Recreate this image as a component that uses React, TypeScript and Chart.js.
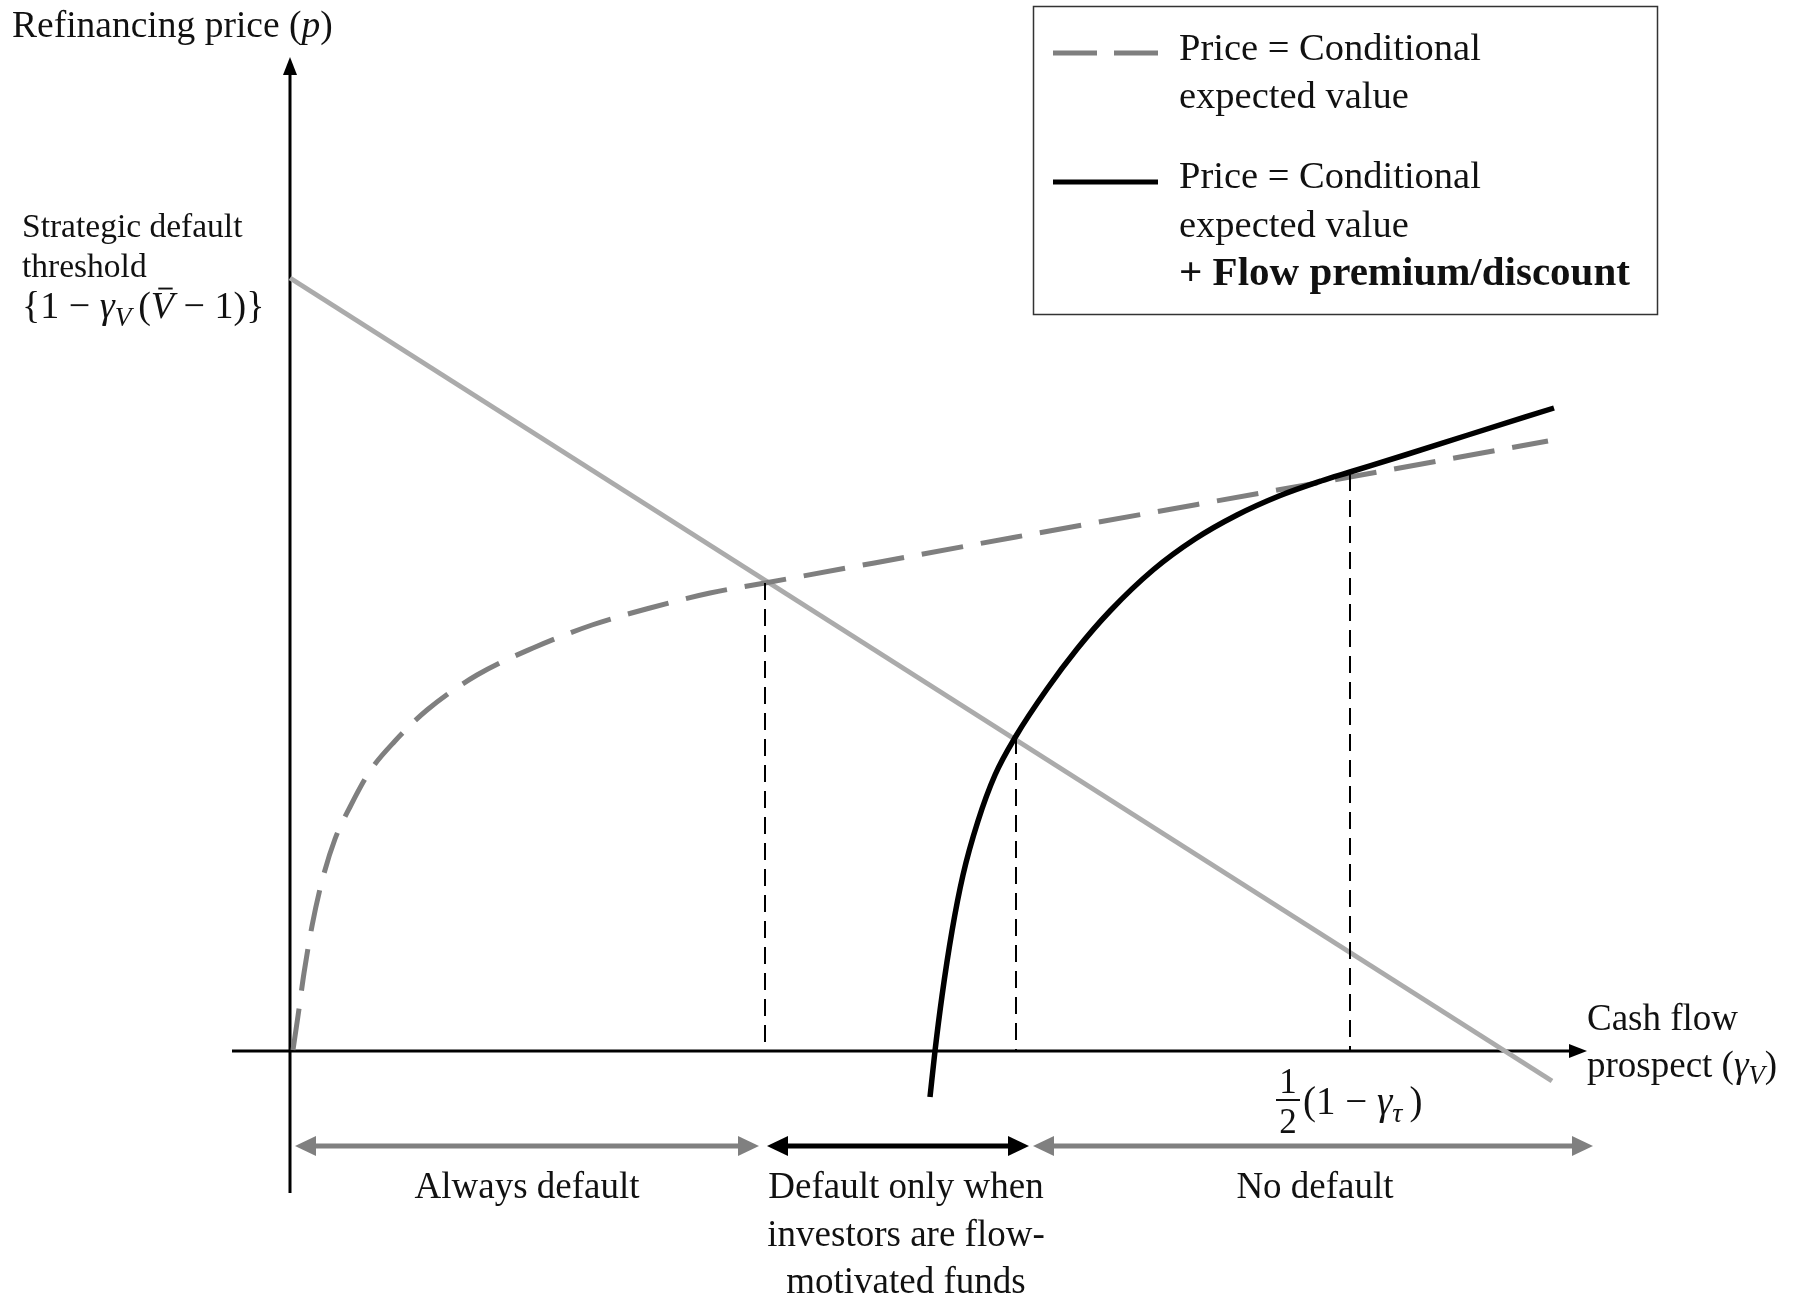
import React, { useEffect, useRef } from "react";
import { Chart, registerables } from "chart.js";

Chart.register(...registerables);

// ---------- data (model units: origin at axes crossing) ----------
const thresholdX = [0, 12.62];
const thresholdY = [7.73, -0.3];

const cevX = [0.03, 0.08, 0.14, 0.22, 0.32, 0.45, 0.6, 0.8, 1.05, 1.37, 1.87, 2.43, 3.02, 3.6, 4.2, 4.75, 7.26, 10.6, 12.58];
const cevY = [0.01, 0.35, 0.78, 1.25, 1.7, 2.12, 2.44, 2.8, 3.1, 3.41, 3.76, 4.03, 4.26, 4.43, 4.58, 4.68, 5.14, 5.74, 6.1];

const flowX = [6.4, 6.45, 6.52, 6.62, 6.73, 6.88, 7.05, 7.26, 7.57, 7.87, 8.2, 8.63, 9.05, 9.47, 9.89, 10.31, 10.6, 11.15, 11.78, 12.64];
const flowY = [-0.46, 0.0, 0.55, 1.2, 1.76, 2.3, 2.76, 3.15, 3.62, 4.02, 4.4, 4.81, 5.12, 5.36, 5.55, 5.7, 5.79, 5.96, 6.16, 6.43];

const dropX = [4.75, 7.26, 10.6];
const dropY = [4.68, 3.14, 5.77];

const regionStart = [0.05, 4.77, 7.43];
const regionEnd = [4.69, 7.39, 13.03];
const regionLabelX = [2.37, 6.16, 10.25];
const regionLabels = [["Always default"], ["Default only when", "investors are flow-", "motivated funds"], ["No default"]];

const xAxisRange = [-0.58, 12.97];
const yAxisRange = [-1.42, 9.94];

const legendLabels = [
  ["Price = Conditional", "expected value"],
  ["Price = Conditional", "expected value", "+ Flow premium/discount"],
];

// ---------- styles ----------
const SERIF = '"Liberation Serif", "Times New Roman", serif';
const DASH_GRAY = "#7f7f7f";
const LIGHT_GRAY = "#ababab";
const ARROW_GRAY = "#808080";

type Run = { t: string; i?: boolean; b?: boolean; sub?: boolean; bar?: boolean };

function fontOf(size: number, r: Run) {
  return `${r.i ? "italic " : ""}${r.b ? "bold " : ""}${size}px ${SERIF}`;
}

function drawRuns(ctx: CanvasRenderingContext2D, runs: Run[], x: number, y: number, size: number, align: "left" | "center" = "left", color = "#111") {
  const widths = runs.map((r) => {
    const s = r.sub ? size * 0.72 : size;
    ctx.font = fontOf(s, r);
    return ctx.measureText(r.t).width;
  });
  const total = widths.reduce((a, b) => a + b, 0);
  let cx = align === "center" ? x - total / 2 : x;
  ctx.fillStyle = color;
  ctx.textAlign = "left";
  ctx.textBaseline = "alphabetic";
  runs.forEach((r, k) => {
    const s = r.sub ? size * 0.72 : size;
    ctx.font = fontOf(s, r);
    const yy = r.sub ? y + size * 0.2 : y;
    ctx.fillText(r.t, cx, yy);
    if (r.bar) {
      ctx.fillRect(cx + widths[k] * 0.32, yy - size * 0.8, widths[k] * 0.62, Math.max(1.5, size * 0.05));
    }
    cx += widths[k];
  });
}

function arrowHead(ctx: CanvasRenderingContext2D, tx: number, ty: number, dx: number, dy: number, len: number, hw: number, color: string) {
  const bx = tx - dx * len;
  const by = ty - dy * len;
  const nx = -dy;
  const ny = dx;
  ctx.fillStyle = color;
  ctx.beginPath();
  ctx.moveTo(tx, ty);
  ctx.lineTo(bx + nx * hw, by + ny * hw);
  ctx.lineTo(bx - nx * hw, by - ny * hw);
  ctx.closePath();
  ctx.fill();
}

function doubleArrow(ctx: CanvasRenderingContext2D, x1: number, x2: number, y: number, color: string, w: number, len: number, hw: number) {
  ctx.strokeStyle = color;
  ctx.lineWidth = w;
  ctx.setLineDash([]);
  ctx.beginPath();
  ctx.moveTo(x1 + len * 0.8, y);
  ctx.lineTo(x2 - len * 0.8, y);
  ctx.stroke();
  arrowHead(ctx, x1, y, -1, 0, len, hw, color);
  arrowHead(ctx, x2, y, 1, 0, len, hw, color);
}

const decorPlugin = {
  id: "decor",
  beforeDatasetsDraw(chart: any) {
    const ctx: CanvasRenderingContext2D = chart.ctx;
    const sx = chart.scales.x;
    const sy = chart.scales.y;
    const ox = sx.getPixelForValue(0);
    const oy = sy.getPixelForValue(0);
    ctx.save();
    ctx.strokeStyle = "#000";
    ctx.lineWidth = 3;
    ctx.setLineDash([]);
    const xa = sx.getPixelForValue(xAxisRange[0]);
    const xb = sx.getPixelForValue(xAxisRange[1]);
    ctx.beginPath();
    ctx.moveTo(xa, oy);
    ctx.lineTo(xb - 14, oy);
    ctx.stroke();
    arrowHead(ctx, xb, oy, 1, 0, 18, 7, "#000");
    const ya = sy.getPixelForValue(yAxisRange[0]);
    const yb = sy.getPixelForValue(yAxisRange[1]);
    ctx.beginPath();
    ctx.moveTo(ox, ya);
    ctx.lineTo(ox, yb + 14);
    ctx.stroke();
    arrowHead(ctx, ox, yb, 0, -1, 18, 7, "#000");
    ctx.restore();
  },
  afterDraw(chart: any) {
    const ctx: CanvasRenderingContext2D = chart.ctx;
    const sx = chart.scales.x;
    const sy = chart.scales.y;
    ctx.save();

    // region arrows
    const ay = sy.getPixelForValue(-0.95);
    const colors = [ARROW_GRAY, "#000", ARROW_GRAY];
    regionStart.forEach((s, k) => {
      doubleArrow(ctx, sx.getPixelForValue(s), sx.getPixelForValue(regionEnd[k]), ay, colors[k], 5, 21, 10);
    });

    // region labels
    ctx.fillStyle = "#111";
    ctx.textAlign = "center";
    ctx.textBaseline = "alphabetic";
    ctx.font = `37px ${SERIF}`;
    regionLabels.forEach((lines, k) => {
      lines.forEach((ln, j) => {
        ctx.fillText(ln, sx.getPixelForValue(regionLabelX[k]), 1198 + j * 47.5);
      });
    });

    // y axis title
    drawRuns(ctx, [{ t: "Refinancing price (" }, { t: "p", i: true }, { t: ")" }], 12, 37, 37.5);

    // threshold label
    ctx.font = `33.5px ${SERIF}`;
    ctx.textAlign = "left";
    ctx.fillStyle = "#111";
    ctx.fillText("Strategic default", 22, 237);
    ctx.fillText("threshold", 22, 277);
    drawRuns(
      ctx,
      [{ t: "{1 \u2212 " }, { t: "\u03b3", i: true }, { t: "V ", i: true, sub: true }, { t: "(" }, { t: "V", i: true, bar: true }, { t: " \u2212 1)}" }],
      22,
      318,
      38
    );

    // x axis title
    drawRuns(ctx, [{ t: "Cash flow" }], 1587, 1030, 37);
    drawRuns(ctx, [{ t: "prospect (" }, { t: "\u03b3", i: true }, { t: "V", i: true, sub: true }, { t: ")" }], 1587, 1077, 37);

    // fraction label
    const fx = sx.getPixelForValue(dropX[2]) - 62;
    ctx.font = `35px ${SERIF}`;
    ctx.textAlign = "center";
    ctx.fillStyle = "#111";
    ctx.fillText("1", fx, 1093);
    ctx.fillRect(fx - 12, 1099, 24, 2);
    ctx.fillText("2", fx, 1133);
    drawRuns(ctx, [{ t: "(1 \u2212 " }, { t: "\u03b3", i: true }, { t: "\u03c4 ", i: true, sub: true }, { t: ")" }], fx + 15, 1114, 39);

    // legend
    ctx.strokeStyle = "#333";
    ctx.lineWidth = 1.5;
    ctx.setLineDash([]);
    ctx.strokeRect(1033.5, 6.5, 624, 308);
    ctx.lineWidth = 5;
    ctx.strokeStyle = DASH_GRAY;
    ctx.setLineDash([44, 17]);
    ctx.beginPath();
    ctx.moveTo(1053, 53);
    ctx.lineTo(1158, 53);
    ctx.stroke();
    ctx.setLineDash([]);
    ctx.strokeStyle = "#000";
    ctx.beginPath();
    ctx.moveTo(1053, 182);
    ctx.lineTo(1158, 182);
    ctx.stroke();
    ctx.textAlign = "left";
    ctx.fillStyle = "#111";
    const base = [
      [60, 108],
      [188, 237, 285],
    ];
    legendLabels.forEach((lines, k) => {
      lines.forEach((ln, j) => {
        const bold = ln.startsWith("+");
        ctx.font = `${bold ? "bold " : ""}${bold ? 41 : 38.5}px ${SERIF}`;
        ctx.fillText(ln, 1179, base[k][j]);
      });
    });
    ctx.restore();
  },
};

export default function App() {
  const ref = useRef<HTMLCanvasElement | null>(null);
  useEffect(() => {
    document.body.style.margin = "0";
    document.body.style.overflow = "hidden";
    if (!ref.current) return;
    const pts = (xs: number[], ys: number[]) => xs.map((x, i) => ({ x, y: ys[i] }));
    const drops = dropX.map((x, i) => ({
      data: [
        { x, y: dropY[i] },
        { x, y: 0 },
      ],
      borderColor: "#000",
      borderWidth: 2,
      borderDash: [17, 9],
      showLine: true,
      pointRadius: 0,
      order: 0,
    }));
    const chart = new Chart(ref.current, {
      type: "scatter",
      data: {
        datasets: [
          {
            label: "Strategic default threshold",
            data: pts(thresholdX, thresholdY),
            borderColor: LIGHT_GRAY,
            borderWidth: 5,
            showLine: true,
            pointRadius: 0,
            order: 3,
          },
          {
            label: "Price = Conditional expected value",
            data: pts(cevX, cevY),
            borderColor: DASH_GRAY,
            borderWidth: 5,
            borderDash: [42, 18],
            showLine: true,
            pointRadius: 0,
            cubicInterpolationMode: "monotone",
            order: 2,
          },
          {
            label: "Price = Conditional expected value + Flow premium/discount",
            data: pts(flowX, flowY),
            borderColor: "#000",
            borderWidth: 5.5,
            showLine: true,
            pointRadius: 0,
            cubicInterpolationMode: "monotone",
            order: 1,
          },
          ...drops,
        ] as any,
      },
      options: {
        animation: false,
        responsive: false,
        maintainAspectRatio: false,
        devicePixelRatio: 1,
        layout: { padding: 0, autoPadding: false } as any,
        plugins: { legend: { display: false }, title: { display: false }, tooltip: { enabled: false } },
        events: [],
        scales: {
          x: { type: "linear", display: false, min: -2.9, max: 15.24 },
          y: { type: "linear", display: false, min: -2.48, max: 10.51 },
        },
      },
      plugins: [decorPlugin],
    });
    return () => chart.destroy();
  }, []);
  return <canvas ref={ref} width={1814} height={1299} style={{ display: "block" }} />;
}
